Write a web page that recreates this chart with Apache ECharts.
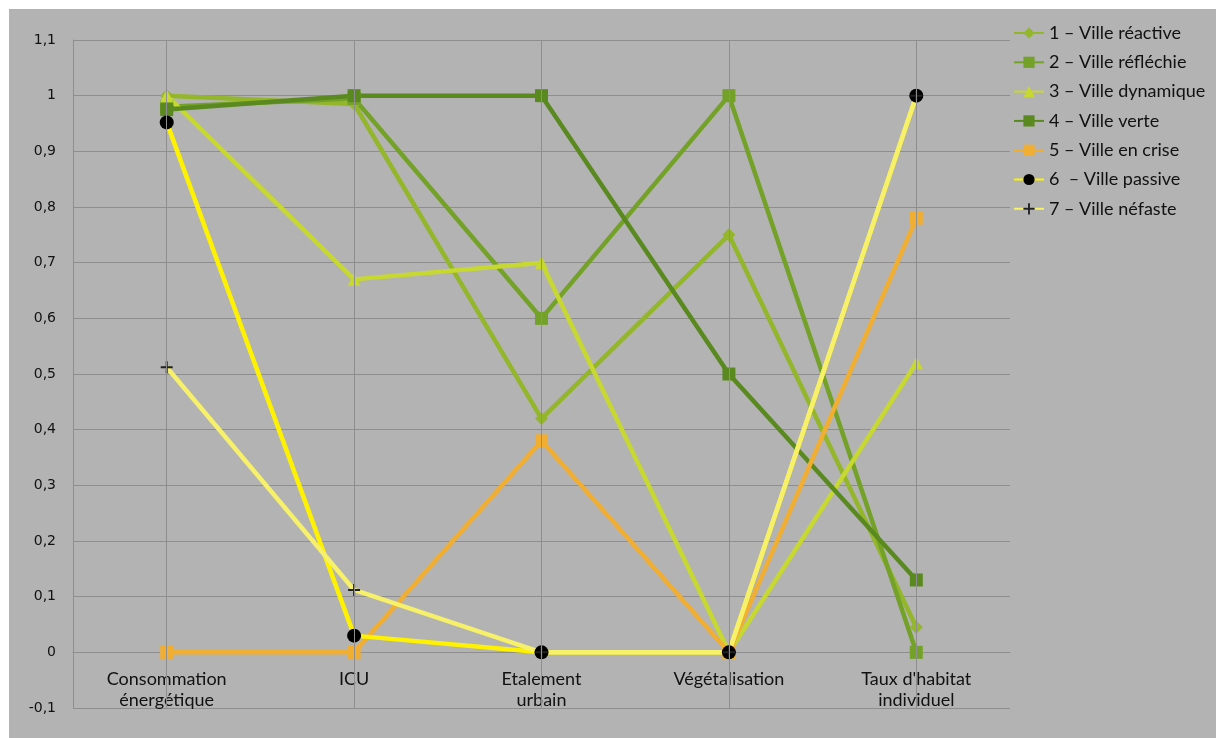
<!DOCTYPE html>
<html>
<head>
<meta charset="utf-8">
<script src="https://cdn.jsdelivr.net/npm/echarts@6/dist/echarts.min.js"></script>
<style>
html,body{margin:0;padding:0;background:#ffffff;}
#c{width:1216px;height:738px;}
</style>
</head>
<body>
<div id="c"></div>
<script>
var categories = ["Consommation\nénergétique", "ICU", "Etalement\nurbain", "Végétalisation", "Taux d'habitat\nindividuel"];
var seriesNames = ["1 – Ville réactive", "2 – Ville réfléchie", "3 – Ville dynamique", "4 – Ville verte", "5 – Ville en crise", "6  – Ville passive", "7 – Ville néfaste"];
var s1 = [1.0, 0.985, 0.42, 0.75, 0.045];
var s2 = [0.98, 0.995, 0.6, 1.0, 0.0];
var s3 = [1.0, 0.67, 0.70, 0.0, 0.52];
var s4 = [0.975, 1.0, 1.0, 0.5, 0.13];
var s5 = [0.0, 0.0, 0.38, 0.0, 0.78];
var s6 = [0.952, 0.03, 0.0, 0.0, 1.0];
var s7 = [0.512, 0.112, 0.0, 0.0, 1.0];
var yTicks = {min: -0.1, max: 1.1, step: 0.1};

var lineColors = ["#93b62a", "#74a229", "#c7d831", "#5a8a1f", "#f0ae33", "#fff200", "#f6f06a"];
var markerColors = ["#93b62a", "#74a229", "#c7d831", "#5a8a1f", "#f0ae33", "#000000", "#222222"];
var symbols = ["diamond", "rect", "triangle", "rect", "rect", "circle", "path://M5,0H7V5H12V7H7V12H5V7H0V5H5Z"];
var sizes = [13, 13, 13, 13, 13, 14, 12];
var data = [s1, s2, s3, s4, s5, s6, s7];

var gridTop = 40, gridBottom = 30, chartH = 738;
var plotH = chartH - gridTop - gridBottom;
var zeroOffset = plotH * (0 - yTicks.min) / (yTicks.max - yTicks.min);

var chart = echarts.init(document.getElementById('c'));
var series = data.map(function (d, i) {
  var s = {
    name: seriesNames[i],
    type: 'line',
    data: d,
    symbol: symbols[i],
    symbolSize: sizes[i],
    showAllSymbol: true,
    lineStyle: {color: lineColors[i], width: 4.5},
    itemStyle: {color: markerColors[i], borderWidth: 0},
    emphasis: {disabled: true},
    animation: false
  };
  if (i === 0) {
    s.markLine = {
      silent: true,
      symbol: ['none', 'none'],
      label: {show: false},
      lineStyle: {color: '#8e8e8e', width: 1, type: 'solid'},
      emphasis: {disabled: true},
      data: categories.map(function (c) { return {xAxis: c}; })
    };
  }
  return s;
});

chart.setOption({
  backgroundColor: '#b3b3b3',
  animation: false,
  graphic: [
    {type: 'rect', shape: {x: 0, y: 0, width: 1216, height: 9}, style: {fill: '#ffffff'}, z: 100},
    {type: 'rect', shape: {x: 0, y: 0, width: 9, height: 738}, style: {fill: '#ffffff'}, z: 100}
  ],
  grid: {left: 73, right: 206, top: gridTop, bottom: gridBottom, containLabel: false, outerBoundsMode: 'none'},
  legend: {
    orient: 'vertical',
    left: 1008,
    top: 18,
    itemWidth: 30,
    itemHeight: 14,
    itemGap: 9.3,
    data: seriesNames,
    textStyle: {color: '#111111', fontSize: 18, lineHeight: 20, fontFamily: 'Lato'},
    selectedMode: false
  },
  xAxis: {
    type: 'category',
    data: categories,
    boundaryGap: true,
    position: 'bottom',
    offset: -zeroOffset,
    axisLine: {show: true, onZero: false, lineStyle: {color: '#8e8e8e', width: 1}},
    axisTick: {show: false},
    splitLine: {show: false},
    axisLabel: {color: '#111111', fontSize: 18, fontFamily: 'Lato', margin: 16, lineHeight: 21, interval: 0}
  },
  yAxis: {
    type: 'value',
    min: yTicks.min,
    max: yTicks.max,
    interval: yTicks.step,
    axisLine: {show: true, lineStyle: {color: '#8e8e8e', width: 1}},
    axisTick: {show: false},
    splitLine: {show: true, lineStyle: {color: '#8e8e8e', width: 1}},
    axisLabel: {
      color: '#111111', fontSize: 14, fontFamily: 'DejaVu Sans', margin: 17,
      formatter: function (v) { return String(Number(v.toFixed(1))).replace('.', ','); }
    }
  },
  series: series
});
</script>
</body>
</html>
